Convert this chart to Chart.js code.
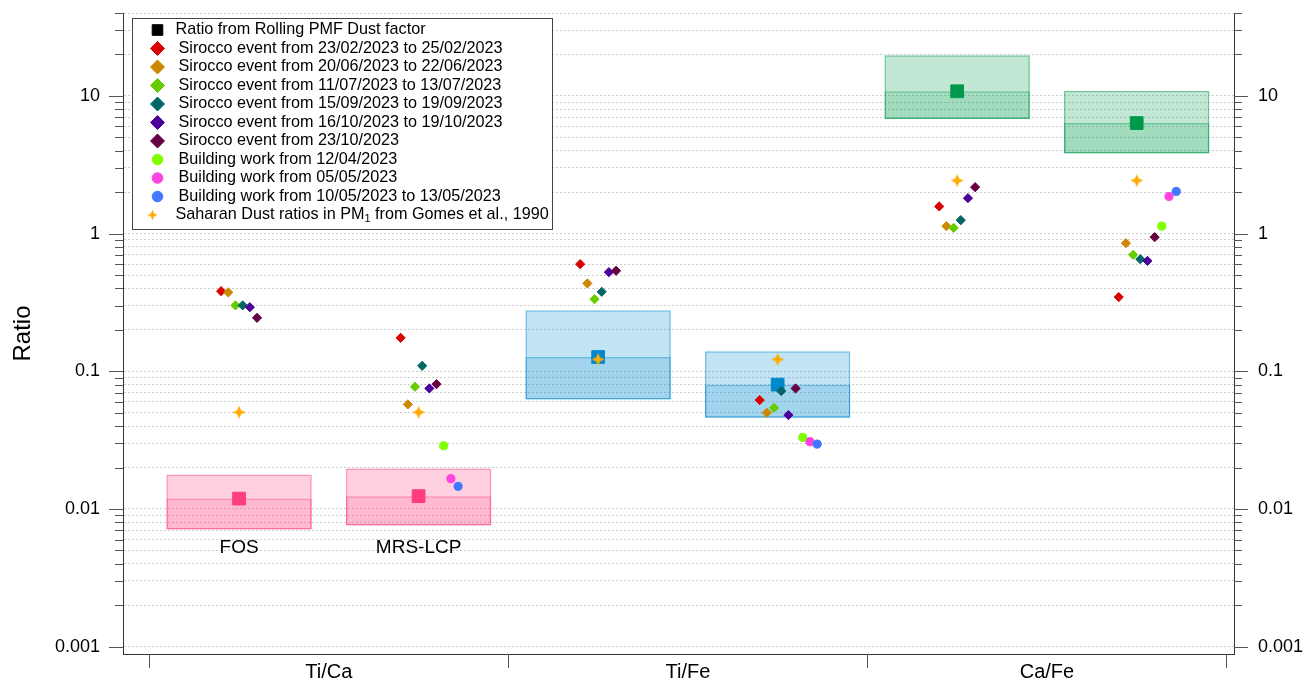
<!DOCTYPE html>
<html>
<head>
<meta charset="utf-8">
<script src="https://cdn.jsdelivr.net/npm/chart.js@4.4.1/dist/chart.umd.min.js"></script>
<style>
  html, body { margin: 0; padding: 0; background: #fff; }
  canvas { display: block; }
</style>
</head>
<body>
<canvas id="chart" width="1307" height="681"></canvas>
<script>
// Ratio groups on the x axis and the two sites shown inside each group
const categories = ['Ti/Ca', 'Ti/Fe', 'Ca/Fe'];
const sites = ['FOS', 'MRS-LCP'];

// Every array below follows the slot order:
// [Ti/Ca FOS, Ti/Ca MRS-LCP, Ti/Fe FOS, Ti/Fe MRS-LCP, Ca/Fe FOS, Ca/Fe MRS-LCP]
const pmfRatio = [0.0119, 0.0124, 0.127, 0.080, 10.8, 6.35];
const pmfLow   = [0.0071, 0.0076, 0.0625, 0.046, 6.8, 3.82];
const pmfHigh  = [0.0178, 0.0197, 0.278, 0.140, 19.7, 10.9];

const sirocco0223 = [0.382, 0.175, 0.600, 0.0618, 1.575, 0.346];
const sirocco0620 = [0.374, 0.0575, 0.435, 0.0500, 1.133, 0.852];
const sirocco0711 = [0.301, 0.0772, 0.334, 0.0543, 1.101, 0.701];
const sirocco0915 = [0.301, 0.1096, 0.378, 0.0718, 1.252, 0.652];
const sirocco1016 = [0.292, 0.0751, 0.525, 0.0481, 1.809, 0.634];
const sirocco1023 = [0.2445, 0.0807, 0.537, 0.0751, 2.174, 0.942];

const building0412 = [null, 0.0288, null, 0.0331, null, 1.133];
const building0505 = [null, 0.0166, null, 0.0308, null, 1.861];
const building0510 = [null, 0.0146, null, 0.0296, null, 2.023];

const gomesPM1 = [0.0504, 0.0504, 0.122, 0.122, 2.43, 2.43];

// Labelled decades of the log axis
const yDecades = [0.001, 0.01, 0.1, 1, 10];
const yTickLabels = ['0.001', '0.01', '0.1', '1', '10'];

// ---------------------------------------------------------------------------
// Styling

const FONT = '"Liberation Sans", Arial, Helvetica, sans-serif';
Chart.defaults.font.family = FONT;
Chart.defaults.color = '#000';

const Y_MIN = 0.000885;
const Y_MAX = 40;

// box fills per ratio group (pink, blue, green)
const groupRGB = ['255,61,127', '0,136,204', '0,153,76'];
const groupSolid = ['#FF3D7F', '#0088CC', '#00994C'];

function makeStar(R, inner, color) {
  const s = Math.ceil(2 * R + 2);
  const c = document.createElement('canvas');
  c.width = s; c.height = s;
  const g = c.getContext('2d');
  const cx = s / 2, cy = s / 2, r = R * inner;
  g.beginPath();
  for (let k = 0; k < 8; k++) {
    const a = -Math.PI / 2 + k * Math.PI / 4;
    const rr = k % 2 === 0 ? R : r;
    g.lineTo(cx + rr * Math.cos(a), cy + rr * Math.sin(a));
  }
  g.closePath();
  g.fillStyle = color;
  g.fill();
  return c;
}

const STAR_COLOR = '#FFAA00';
const starPlot = makeStar(6.6, 0.42, STAR_COLOR);
const starLegend = makeStar(5.2, 0.42, STAR_COLOR);

const pointSeries = [
  { label: 'Sirocco event from 23/02/2023 to 25/02/2023', values: sirocco0223, color: '#D80000', style: 'rectRot', shift: -0.10 },
  { label: 'Sirocco event from 20/06/2023 to 22/06/2023', values: sirocco0620, color: '#CC8800', style: 'rectRot', shift: -0.06 },
  { label: 'Sirocco event from 11/07/2023 to 13/07/2023', values: sirocco0711, color: '#66CC00', style: 'rectRot', shift: -0.02 },
  { label: 'Sirocco event from 15/09/2023 to 19/09/2023', values: sirocco0915, color: '#006666', style: 'rectRot', shift: 0.02 },
  { label: 'Sirocco event from 16/10/2023 to 19/10/2023', values: sirocco1016, color: '#4C0099', style: 'rectRot', shift: 0.06 },
  { label: 'Sirocco event from 23/10/2023', values: sirocco1023, color: '#660044', style: 'rectRot', shift: 0.10 },
  { label: 'Building work from 12/04/2023', values: building0412, color: '#80FF00', style: 'circle', shift: 0.14 },
  { label: 'Building work from 05/05/2023', values: building0505, color: '#FF44DD', style: 'circle', shift: 0.18 },
  { label: 'Building work from 10/05/2023 to 13/05/2023', values: building0510, color: '#4477FF', style: 'circle', shift: 0.22 },
  { label: 'Saharan Dust ratios in PM\u2081 from Gomes et al., 1990', values: gomesPM1, color: STAR_COLOR, style: 'star', shift: 0 }
];

const plotRadius = { rect: 9, rectRot: 4.6, circle: 4.1 };
const legendRadius = { rect: 7.5, rectRot: 7, circle: 5.3 };

// slot i sits at x = i + 0.5 (two slots per ratio group)
const slotX = i => i + 0.5;
const groupOf = i => Math.floor(i / 2);

const datasets = [];

// full PMF range box
datasets.push({
  type: 'bar',
  label: 'PMF range',
  data: pmfRatio.map((v, i) => ({ x: slotX(i), y: [pmfLow[i], pmfHigh[i]] })),
  backgroundColor: pmfRatio.map((v, i) => `rgba(${groupRGB[groupOf(i)]},0.24)`),
  borderColor: pmfRatio.map((v, i) => `rgba(${groupRGB[groupOf(i)]},0.55)`),
  borderWidth: 1.5,
  borderSkipped: false,
  grouped: false,
  barPercentage: 0.81,
  categoryPercentage: 1,
  order: 100,
  inLegend: false
});
// lower part of the box, from the range floor up to the PMF ratio
datasets.push({
  type: 'bar',
  label: 'PMF lower',
  data: pmfRatio.map((v, i) => ({ x: slotX(i), y: [pmfLow[i], v] })),
  backgroundColor: pmfRatio.map((v, i) => `rgba(${groupRGB[groupOf(i)]},0.16)`),
  borderColor: pmfRatio.map((v, i) => `rgba(${groupRGB[groupOf(i)]},0.45)`),
  borderWidth: 1.5,
  borderSkipped: false,
  grouped: false,
  barPercentage: 0.81,
  categoryPercentage: 1,
  order: 99,
  inLegend: false
});
// PMF ratio squares
datasets.push({
  type: 'scatter',
  label: 'Ratio from Rolling PMF Dust factor',
  data: pmfRatio.map((v, i) => ({ x: slotX(i), y: v })),
  pointStyle: 'rect',
  pointRadius: plotRadius.rect,
  pointBorderWidth: 1,
  backgroundColor: pmfRatio.map((v, i) => groupSolid[groupOf(i)]),
  borderColor: pmfRatio.map((v, i) => groupSolid[groupOf(i)]),
  order: 50,
  inLegend: true,
  legendStyle: 'rect',
  legendColor: '#000'
});
pointSeries.forEach((s, k) => {
  const pts = [];
  s.values.forEach((v, i) => { if (v !== null) pts.push({ x: slotX(i) + s.shift, y: v }); });
  const isStar = s.style === 'star';
  datasets.push({
    type: 'scatter',
    label: s.label,
    data: pts,
    pointStyle: isStar ? starPlot : s.style,
    pointRadius: isStar ? 7 : plotRadius[s.style],
    pointBorderWidth: isStar ? 0 : 1,
    backgroundColor: s.color,
    borderColor: s.color,
    order: 40 - k,
    inLegend: true,
    legendStyle: s.style,
    legendColor: s.color
  });
});

// ---------------------------------------------------------------------------
// Tick marks, category dividers, site labels and the boxed legend

function drawMarker(ctx, style, color, x, y) {
  if (style === 'star') {
    ctx.drawImage(starLegend, x - starLegend.width / 2, y - starLegend.height / 2);
    return;
  }
  ctx.fillStyle = color;
  ctx.strokeStyle = color;
  ctx.lineWidth = 1;
  Chart.helpers.drawPoint(ctx, { pointStyle: style, radius: legendRadius[style], rotation: 0, borderWidth: 1 }, x, y);
}

const LEGEND_FONT = '16.2px ' + FONT;
const LEGEND_SUB_FONT = '11px ' + FONT;

const decorPlugin = {
  id: 'decor',
  afterDraw(chart) {
    const { ctx, chartArea, scales } = chart;
    const { x, y, y2 } = scales;
    ctx.save();

    // y tick marks, long on decades, short otherwise
    ctx.strokeStyle = '#555';
    ctx.lineWidth = 1;
    [[y, -1, chartArea.left], [y2, 1, chartArea.right]].forEach(([scale, dir, edge]) => {
      scale.ticks.forEach(t => {
        const py = Math.round(scale.getPixelForValue(t.value)) + 0.5;
        const len = t.major ? 14 : 8;
        ctx.beginPath();
        ctx.moveTo(edge, py);
        ctx.lineTo(edge + dir * len, py);
        ctx.stroke();
      });
    });

    // group dividers below the x axis
    for (let k = 0; k <= categories.length; k++) {
      const px = Math.round(x.getPixelForValue(2 * k)) + 0.5;
      ctx.beginPath();
      ctx.moveTo(px, chartArea.bottom);
      ctx.lineTo(px, chartArea.bottom + 14);
      ctx.stroke();
    }

    // site names under the first group
    ctx.fillStyle = '#000';
    ctx.font = '19px ' + FONT;
    ctx.textAlign = 'center';
    ctx.textBaseline = 'middle';
    const labelY = Math.max(y.getPixelForValue(pmfLow[0]), y.getPixelForValue(pmfLow[1])) + 18;
    sites.forEach((name, s) => ctx.fillText(name, x.getPixelForValue(slotX(s)), labelY));

    // legend
    const items = chart.data.datasets.filter(d => d.inLegend);
    const lx = chartArea.left + 8.5;
    const ly = chartArea.top + 4.5;
    const rowH = 18.5;
    const measure = lbl => {
      const parts = lbl.split('\u2081');
      ctx.font = LEGEND_FONT;
      if (parts.length === 1) return ctx.measureText(lbl).width;
      let w = ctx.measureText(parts[0]).width + ctx.measureText(parts[1]).width;
      ctx.font = LEGEND_SUB_FONT;
      w += ctx.measureText('1').width;
      return w;
    };
    const textX = st => (st === 'rect' || st === 'star') ? 44 : 47;
    let boxW = 0;
    items.forEach(d => { boxW = Math.max(boxW, textX(d.legendStyle) + measure(d.label) + 3); });
    const boxH = items.length * rowH + 7;
    ctx.fillStyle = '#fff';
    ctx.fillRect(lx, ly, boxW, boxH);
    ctx.strokeStyle = '#444';
    ctx.lineWidth = 1;
    ctx.strokeRect(Math.round(lx) + 0.5, Math.round(ly) + 0.5, Math.round(boxW), Math.round(boxH));

    items.forEach((d, r) => {
      const cy = ly + 12.5 + r * rowH;
      const mx = lx + (d.legendStyle === 'star' ? 21 : 26);
      drawMarker(ctx, d.legendStyle, d.legendColor, mx, cy);
      ctx.fillStyle = '#000';
      ctx.textAlign = 'left';
      ctx.textBaseline = 'middle';
      ctx.font = LEGEND_FONT;
      let tx = lx + textX(d.legendStyle);
      const parts = d.label.split('\u2081');
      ctx.fillText(parts[0], tx, cy);
      if (parts.length > 1) {
        tx += ctx.measureText(parts[0]).width;
        ctx.font = LEGEND_SUB_FONT;
        ctx.fillText('1', tx, cy + 4);
        tx += ctx.measureText('1').width;
        ctx.font = LEGEND_FONT;
        ctx.fillText(parts[1], tx, cy);
      }
    });
    ctx.restore();
  }
};

// log ticks: every 1..9 multiple of each decade, up to the axis top
function logTicks(scale) {
  const ticks = [];
  yDecades.forEach(d => {
    for (let m = 1; m <= 9; m++) {
      const v = +(d * m).toPrecision(6);
      if (v <= Y_MAX) ticks.push({ value: v, major: m === 1 });
    }
  });
  scale.ticks = ticks;
}
const decadeLabel = v => {
  const k = yDecades.findIndex(d => Math.abs(v / d - 1) < 1e-6);
  return k >= 0 ? yTickLabels[k] : '';
};

new Chart(document.getElementById('chart'), {
  type: 'scatter',
  data: { datasets },
  plugins: [decorPlugin],
  options: {
    responsive: false,
    animation: false,
    events: [],
    devicePixelRatio: 1,
    layout: { padding: { top: 13, left: 0, right: 0, bottom: 0 } },
    plugins: { legend: { display: false }, tooltip: { enabled: false } },
    scales: {
      x: {
        type: 'linear',
        position: 'bottom',
        offset: false,
        min: -0.1465,
        max: 6.042,
        afterBuildTicks: s => { s.ticks = categories.map((c, i) => ({ value: 2 * i + 1 })); },
        afterFit: s => { s.height = 27; },
        ticks: {
          callback: v => categories[Math.round((v - 1) / 2)],
          font: { size: 20 },
          color: '#000',
          padding: 6,
          maxRotation: 0,
          autoSkip: false
        },
        grid: { display: false, drawTicks: false, offset: false },
        border: { display: true, color: '#333', width: 1 }
      },
      y: {
        type: 'logarithmic',
        position: 'left',
        offset: false,
        min: Y_MIN,
        max: Y_MAX,
        afterBuildTicks: logTicks,
        afterFit: s => { s.width = 123; },
        ticks: { callback: decadeLabel, font: { size: 18 }, color: '#000', padding: 0, autoSkip: false },
        grid: { color: '#cccccc', lineWidth: 1, drawTicks: true, tickLength: 23, tickColor: 'rgba(0,0,0,0)' },
        border: { display: true, color: '#333', width: 1, dash: [2, 2] },
        title: { display: true, text: 'Ratio', font: { size: 24 }, color: '#000', padding: { top: 9, bottom: 0 } }
      },
      y2: {
        type: 'logarithmic',
        position: 'right',
        offset: false,
        min: Y_MIN,
        max: Y_MAX,
        afterBuildTicks: logTicks,
        afterFit: s => { s.width = 73; },
        ticks: { callback: decadeLabel, font: { size: 18 }, color: '#000', padding: 0, autoSkip: false },
        grid: { drawOnChartArea: false, drawTicks: true, tickLength: 24, tickColor: 'rgba(0,0,0,0)' },
        border: { display: true, color: '#333', width: 1 }
      }
    }
  }
});
</script>
</body>
</html>
